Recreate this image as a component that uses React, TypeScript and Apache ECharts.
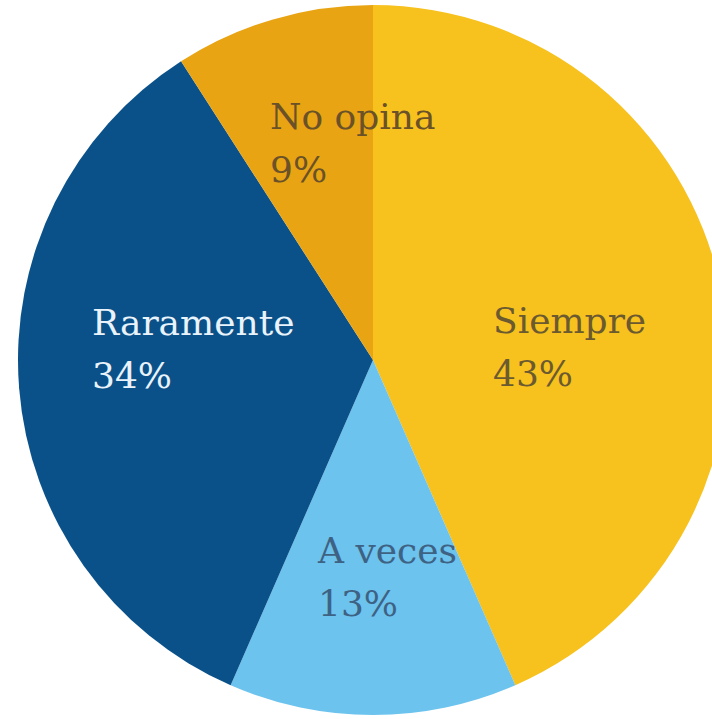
import React, { useEffect, useRef } from "react";
import * as echarts from "echarts";

const categories = ["Siempre", "A veces", "Raramente", "No opina"];
const values = [43, 13, 34, 9];
const colors = ["#F7C11E", "#6CC3EE", "#0B5189", "#E8A413"];
const labelColors = ["#6b5a30", "#3e6283", "#e9f3fb", "#6a5128"];
// label anchor (left, vertical middle of the two-line block)
const labelPos: Record<string, [number, number]> = {
  Siempre: [493, 347],
  "A veces": [318, 577],
  Raramente: [92, 349],
  "No opina": [270, 143],
};

export default function App() {
  const ref = useRef<HTMLDivElement>(null);
  useEffect(() => {
    document.body.style.margin = "0";
    const chart = echarts.init(ref.current!, null, { renderer: "svg" });
    chart.setOption({
      animation: false,
      backgroundColor: "#ffffff",
      series: [
        {
          type: "pie",
          center: [373, 360],
          radius: 355,
          startAngle: 90,
          clockwise: true,
          silent: true,
          data: categories.map((name, i) => ({
            name,
            value: values[i],
            itemStyle: { color: colors[i] },
            label: { color: labelColors[i] },
          })),
          label: {
            show: true,
            position: "inside",
            formatter: "{b}\n{c}%",
            fontFamily: "DejaVu Serif",
            fontSize: 36,
            lineHeight: 53,
            align: "left",
          },
          labelLine: { show: false },
          labelLayout: (params: any) => {
            const p = labelPos[categories[params.dataIndex]];
            return { x: p[0], y: p[1], align: "left", verticalAlign: "middle" };
          },
        },
      ],
    });
    return () => chart.dispose();
  }, []);
  return <div ref={ref} style={{ width: 712, height: 719 }} />;
}
